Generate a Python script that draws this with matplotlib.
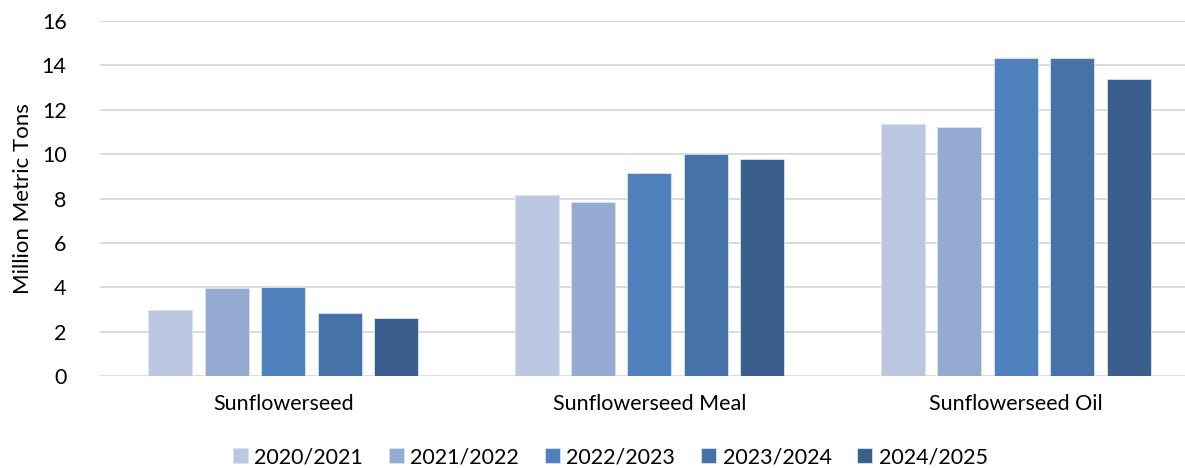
import matplotlib.pyplot as plt
import numpy as np

plt.rcParams['font.family'] = ['Lato', 'DejaVu Sans']

categories = ["Sunflowerseed", "Sunflowerseed Meal", "Sunflowerseed Oil"]
years = ["2020/2021", "2021/2022", "2022/2023", "2023/2024", "2024/2025"]
v2020 = [2.97, 8.16, 11.35]
v2021 = [3.95, 7.84, 11.21]
v2022 = [4.02, 9.16, 14.32]
v2023 = [2.84, 9.99, 14.33]
v2024 = [2.60, 9.78, 13.37]
colors = ["#BCC8E1", "#95AAD1", "#4F81BD", "#4572A7", "#3A5F8D"]

series = [v2020, v2021, v2022, v2023, v2024]

fig = plt.figure(figsize=(11.85, 4.68), dpi=100)
ax = fig.add_axes([100 / 1185, 1 - 376 / 468, 1085 / 1185, 355 / 468])

x = np.arange(len(categories))
step = 0.154
width = 0.12
for i, (vals, yr, c) in enumerate(zip(series, years, colors)):
    ax.bar(x + (i - 2) * step, vals, width, color=c, label=yr,
           edgecolor="#DCE3EF", linewidth=0.6, zorder=3)

ax.set_xlim(-0.5, 2.462)
ax.set_ylim(0, 16)
ax.set_yticks(range(0, 17, 2))
ax.set_xticks(x)
ax.set_xticklabels(categories, fontsize=15.5)
ax.tick_params(axis='y', labelsize=15.5, length=0, pad=24)
ax.tick_params(axis='x', length=0, pad=13)
ax.grid(axis='y', color="#D9D9D9", linewidth=1.3, zorder=0)
for s in ax.spines.values():
    s.set_visible(False)

ax.set_ylabel("Million Metric Tons", fontsize=16)
ax.yaxis.set_label_coords(-0.062, 0.5)

fig.legend(loc='lower center', bbox_to_anchor=(0.515, -0.04), ncol=5,
           frameon=False, fontsize=15.5, handlelength=0.7, handleheight=0.7,
           handletextpad=0.3, columnspacing=1.2)

fig.savefig("out.png", dpi=100)
